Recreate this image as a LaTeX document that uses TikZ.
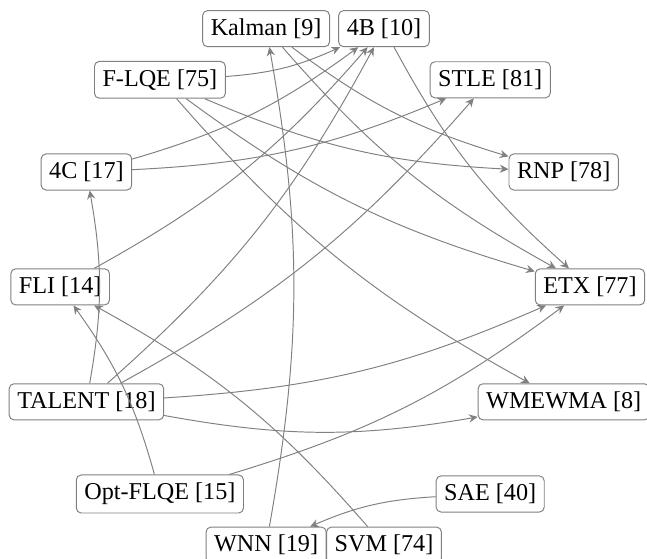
\documentclass[tikz,border=0pt]{standalone}
\usepackage{fontspec}
\setmainfont{Liberation Serif}
\usetikzlibrary{arrows.meta}
\begin{document}
\begin{tikzpicture}[
  lqe/.style={draw=gray, rounded corners=2pt, inner sep=3.33pt, font=\fontsize{10}{12}\selectfont},
  edge/.style={draw=gray, line width=0.4pt, -{Stealth[length=3.6pt,width=3.4pt,inset=1.2pt]}, bend right=10}
]
\useasboundingbox (-134.5pt,-112.5pt) rectangle (133.2pt,118.7pt);
\def\R{109.6pt}
\node[lqe] (etx)    at (0:\R)           {ETX [77]};
\node[lqe] (rnp)    at (25.714:\R)      {RNP [78]};
\node[lqe] (stle)   at (51.429:\R)      {STLE [81]};
\node[lqe] (fb)     at (77.143:\R)      {4B [10]};
\node[lqe] (kalman) at (102.857:\R)     {Kalman [9]};
\node[lqe] (flqe)   at (128.571:\R)     {F-LQE [75]};
\node[lqe] (fc)     at (154.286:\R)     {4C [17]};
\node[lqe] (fli)    at (180:\R)         {FLI [14]};
\node[lqe] (talent) at (205.714:\R)     {TALENT [18]};
\node[lqe] (optf)   at (231.429:\R)     {Opt-FLQE [15]};
\node[lqe] (wnn)    at (257.143:\R)     {WNN [19]};
\node[lqe] (svm)    at (282.857:\R)     {SVM [74]};
\node[lqe] (sae)    at (308.571:\R)     {SAE [40]};
\node[lqe] (wmewma) at (334.286:\R)     {WMEWMA [8]};

\path[edge] (flqe) to (fb);
\path[edge] (fc) to (fb);
\path[edge] (fli) to (fb);
\path[edge] (talent) to (fb);
\path[edge] (wnn) to (kalman);
\path[edge] (fc) to (stle);
\path[edge] (talent) to (stle);
\path[edge] (kalman) to (rnp);
\path[edge] (flqe) to (rnp);
\path[edge] (talent) to (fc);
\path[edge] (optf) to (fli);
\path[edge] (svm) to (fli);
\path[edge] (flqe) to (etx);
\path[edge] (kalman) to (etx);
\path[edge] (fb) to (etx);
\path[edge] (talent) to (etx);
\path[edge] (optf) to (etx);
\path[edge] (flqe) to (wmewma);
\path[edge] (talent) to (wmewma);
\path[edge] (sae) to (wnn);
\end{tikzpicture}
\end{document}
